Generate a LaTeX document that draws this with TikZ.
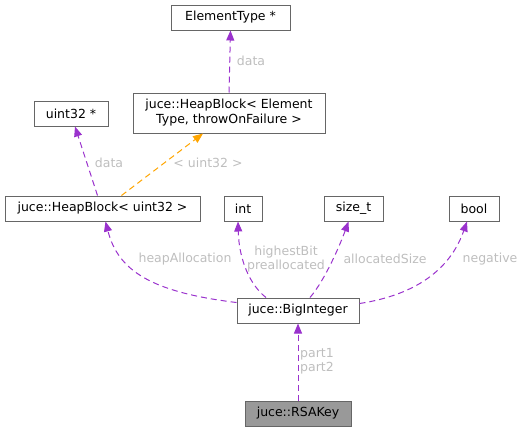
\documentclass[tikz,border=0pt]{standalone}
\usepackage{fontspec}
\setmainfont{DejaVu Sans}
\usetikzlibrary{arrows.meta}
\definecolor{edgepurple}{HTML}{9A32CD}
\definecolor{edgeorange}{HTML}{FFA500}
\definecolor{boxgray}{HTML}{666666}
\definecolor{lblgray}{HTML}{BEBEBE}
\definecolor{fillgray}{HTML}{999999}
\tikzset{
  box/.style={draw=boxgray, line width=1pt, fill=white, inner sep=0pt, minimum height=25pt, font=\fontsize{12.5}{15}\selectfont, align=center, text=black},
  lbl/.style={text=lblgray, inner sep=0pt, font=\fontsize{12.5}{14.5}\selectfont, align=center},
  rel/.style={draw=edgepurple, line width=1pt, dash pattern=on 6pt off 4pt, -{Triangle[length=10pt,width=8pt]}},
  tmpl/.style={draw=edgeorange, line width=1pt, dash pattern=on 6pt off 4pt, -{Triangle[length=10pt,width=8pt]}}
}
\begin{document}
\begin{tikzpicture}[x=1pt,y=-1pt]
\useasboundingbox (0,0) rectangle (531,432);
\node[box, minimum width=119pt] (et) at (230.5,17.5) {ElementType *};
\node[box, minimum width=192pt, minimum height=40pt] (hbet) at (229,113) {juce::HeapBlock< Element\\Type, throwOnFailure >};
\node[box, minimum width=74pt] (u32) at (71,113.5) {uint32 *};
\node[box, minimum width=195pt] (hbu) at (102.5,208.5) {juce::HeapBlock< uint32 >};
\node[box, minimum width=38pt] (int) at (243,208.5) {int};
\node[box, minimum width=59pt] (sz) at (353.5,208.5) {size\_t};
\node[box, minimum width=50pt] (bool) at (474,208.5) {bool};
\node[box, minimum width=122pt] (bi) at (298,310.5) {juce::BigInteger};
\node[box, minimum width=106pt, fill=fillgray] (rsa) at (298,413.5) {juce::RSAKey};

\draw[rel] (hbet.north) -- (et.south);
\node[lbl] (l1) at (251,61) {data};
\draw[rel] ([xshift=-5pt]hbu.north) -- ([xshift=4pt]u32.south);
\node[lbl] (l2) at (109,163) {data};
\draw[tmpl] ([xshift=19pt]hbu.north) -- ([xshift=-26pt]hbet.south);
\node[lbl] (l3) at (208,163) {< uint32 >};

\draw[rel] ([yshift=8pt]bi.west) .. controls (150,292) and (118,270) .. ([xshift=3pt]hbu.south);
\node[lbl] (l4) at (185,259) {heapAllocation};
\draw[rel] ([xshift=-32pt]bi.north) .. controls (250,285) and (239,260) .. ([xshift=-5pt]int.south);
\node[lbl] (l5) at (286,259) {highestBit\\preallocated};
\draw[rel] ([xshift=12pt]bi.north) .. controls (325,280) and (340,245) .. ([xshift=-5pt]sz.south);
\node[lbl] (l6) at (385,259) {allocatedSize};
\draw[rel] ([yshift=7pt]bi.east) .. controls (415,295) and (450,270) .. ([xshift=-7pt]bool.south);
\node[lbl] (l7) at (490,259) {negative};
\draw[rel] (rsa.north) -- (bi.south);
\node[lbl] (l8) at (317,361) {part1\\part2};
\end{tikzpicture}
\end{document}
